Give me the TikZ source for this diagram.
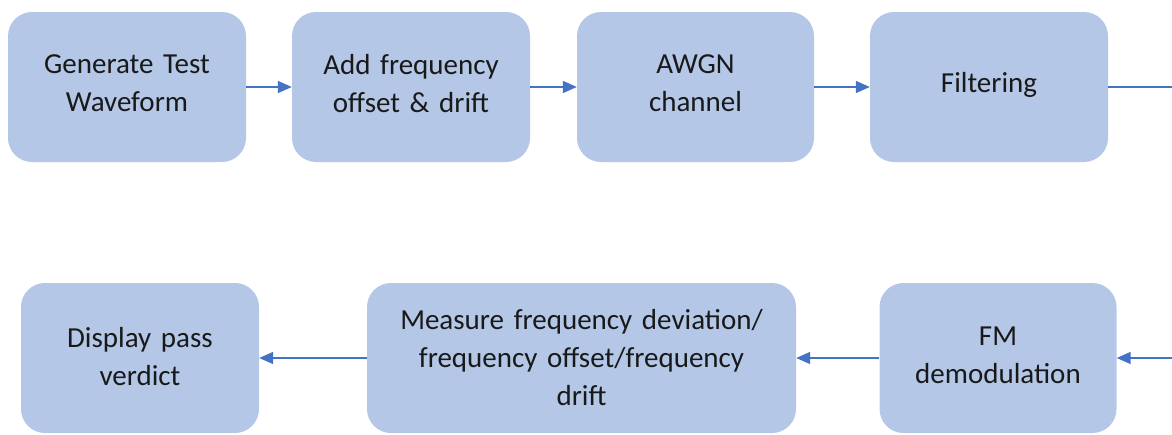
\documentclass[tikz,border=0pt]{standalone}
\usepackage{fontspec}
\setmainfont{Carlito}
\usepackage{xcolor}
\usepackage{tikz}
\usetikzlibrary{arrows.meta, positioning}
\definecolor{myblue}{RGB}{68,114,196}
\definecolor{boxblue}{RGB}{180,199,231}
\definecolor{mytext}{RGB}{25,25,25}
\newcommand{\liftup}[1]{\\[#1]\mbox{}}
\tikzset{
  block/.style={rectangle, draw=none, fill=boxblue,
    text width=#1, align=center, minimum height=150pt,
    font=\fontsize{29}{38}\selectfont, text=mytext, rounded corners=24pt,
    inner sep=0pt},
  block/.default=238pt,
  arrow/.style={-{Triangle[length=14pt, width=12pt]}, line width=1.6pt, color=myblue},
  line/.style={line width=1.6pt, color=myblue}
}

\begin{document}
\begin{tikzpicture}[x=1pt, y=-1pt]
  \useasboundingbox (0,0) rectangle (1172,434);
  % Top row
  \node[block] (gen) at (127, 87) {Generate Test\\Waveform\liftup{-30pt}};
  \node[block] (offset) at (411, 87) {Add frequency\\offset \& drift\liftup{-30pt}};
  \node[block=237pt] (awgn) at (695.5, 87) {AWGN\\channel\liftup{-30pt}};
  \node[block] (filt) at (989, 87) {Filtering\liftup{-28pt}};
  \coordinate (outR) at (1172, 87);

  \draw[arrow] (gen) -- (offset);
  \draw[arrow] (offset) -- (awgn);
  \draw[arrow] (awgn) -- (filt);
  \draw[line] (filt) -- (outR);

  % Bottom row
  \coordinate (inR) at (1172, 358);
  \node[block=237pt] (fmdemod) at (998, 358) {FM\\demodulation\liftup{-33pt}};
  \node[block=429pt] (measure) at (581.5, 358) {Measure frequency deviation/\\frequency offset/frequency\\drift};
  \node[block] (verdict) at (140, 358) {Display pass\\verdict\liftup{-34pt}};

  \draw[arrow] (inR) -- (fmdemod);
  \draw[arrow] (fmdemod) -- (measure);
  \draw[arrow] (measure) -- (verdict);
\end{tikzpicture}
\end{document}
